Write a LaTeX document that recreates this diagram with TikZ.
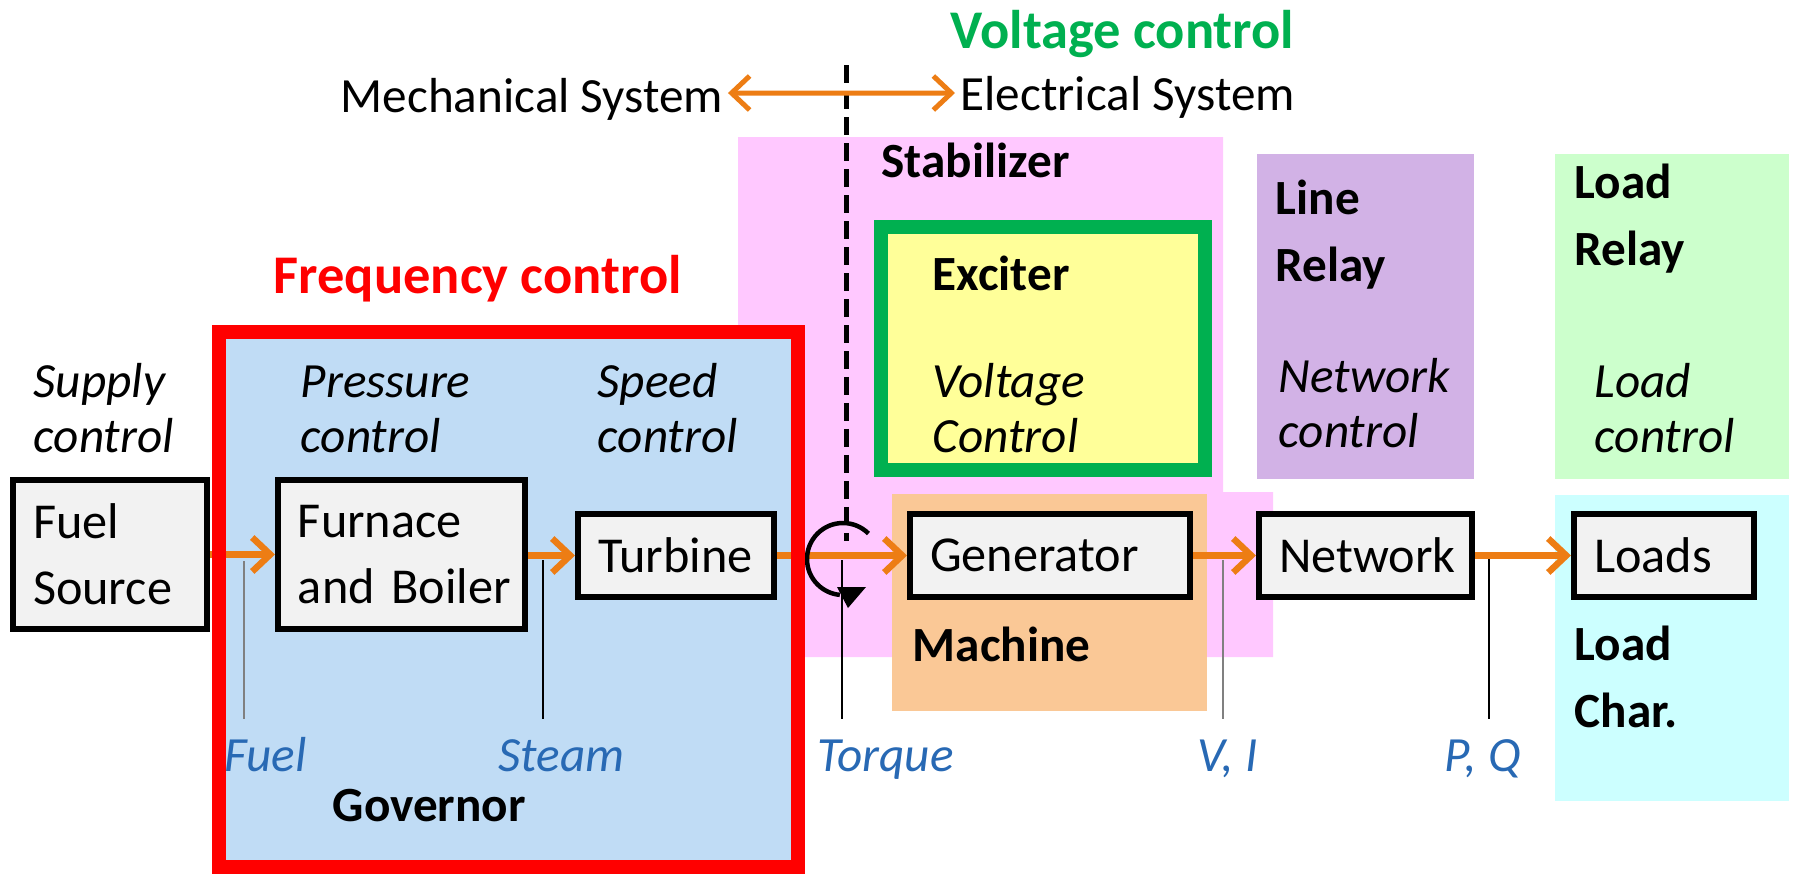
\documentclass[tikz,border=0pt]{standalone}
\usepackage{fontspec}
\setmainfont{Carlito}
\usetikzlibrary{arrows.meta,positioning}
\definecolor{flow}{RGB}{237,125,20}
\definecolor{freqred}{RGB}{255,0,0}
\definecolor{voltgreen}{RGB}{0,176,80}
\definecolor{govblue}{RGB}{192,220,245}
\definecolor{stabpink}{RGB}{255,200,255}
\definecolor{machorange}{RGB}{250,200,150}
\definecolor{excyellow}{RGB}{255,255,153}
\definecolor{relaypurple}{RGB}{210,178,230}
\definecolor{loadgreen}{RGB}{204,255,204}
\definecolor{loadcyan}{RGB}{204,255,255}
\definecolor{sigblue}{RGB}{40,105,180}
\definecolor{boxgray}{RGB}{242,242,242}

\begin{document}
\begin{tikzpicture}[
  >={Straight Barb[length=0.18cm,width=0.34cm]},
  blockbox/.style={draw=black, fill=boxgray, line width=0.06cm, align=left, inner xsep=0.2cm, inner ysep=0pt, font=\fontsize{14.3}{18.8}\selectfont},
  flowarrow/.style={->, line width=0.065cm, color=flow},
  ctrltext/.style={font=\fontsize{14}{15.6}\selectfont\itshape, align=left, anchor=base west, inner sep=0pt},
  tagtext/.style={font=\fontsize{14}{19}\selectfont\bfseries, align=left, anchor=base west, inner sep=0pt},
  sigtext/.style={font=\fontsize{14}{17}\selectfont\itshape, color=sigblue, anchor=base west, inner sep=0pt},
  sigtick/.style={line width=0.02cm}
]
\useasboundingbox (0,0) rectangle (17.94,-8.74);

% coloured areas
\fill[stabpink] (7.38,-1.37) -- (12.23,-1.37) -- (12.23,-4.92) -- (12.73,-4.92) -- (12.73,-6.57) -- (7.38,-6.57) -- cycle;
\fill[machorange] (8.92,-4.94) rectangle (12.07,-7.11);
\filldraw[fill=excyellow, draw=voltgreen, line width=0.14cm] (8.81,-2.27) rectangle (12.05,-4.70);
\fill[relaypurple] (12.57,-1.54) rectangle (14.74,-4.79);
\fill[loadgreen] (15.55,-1.54) rectangle (17.89,-4.79);
\fill[loadcyan] (15.55,-4.95) rectangle (17.89,-8.01);
\fill[govblue] (2.19,-3.32) rectangle (7.98,-8.67);

% mechanical / electrical divide
\coordinate (divtop) at (8.46,-0.65);
\coordinate (divbot) at (8.46,-5.41);
\draw[line width=0.05cm, dash pattern=on 0.18cm off 0.08cm] (divtop) -- (divbot);

% blocks
\node[blockbox, text width=1.54cm, minimum height=1.49cm] (fuel) at (1.10,-5.545) {Fuel\\Source};
\node[blockbox, text width=2.07cm, minimum height=1.49cm] (furnace) at (4.015,-5.545) {Furnace\\\mbox{and Boiler}};
\node[blockbox, text width=1.56cm, minimum height=0.83cm] (turbine) at (6.76,-5.555) {Turbine};
\node[blockbox, text width=2.40cm, minimum height=0.83cm] (generator) at (10.50,-5.555) {Generator};
\node[blockbox, text width=1.73cm, minimum height=0.83cm] (network) at (13.655,-5.555) {Network};
\node[blockbox, text width=1.40cm, minimum height=0.83cm] (loads) at (16.64,-5.555) {Loads};

\draw[flowarrow] (fuel.east) -- (furnace.west);
\draw[flowarrow] (furnace.east |- turbine.west) -- (turbine.west);
\draw[flowarrow] (turbine.east) -- (generator.west);
\draw[flowarrow] (generator.east) -- (network.west);
\draw[flowarrow] (network.east) -- (loads.west);

% signal taps
\coordinate (fueltap) at (2.44,-5.61);
\coordinate (steamtap) at (5.43,-5.60);
\coordinate (torquetap) at (8.42,-5.60);
\coordinate (vitap) at (12.23,-5.60);
\coordinate (pqtap) at (14.89,-5.59);
\draw[sigtick, gray] (fueltap) -- ++(0,-1.58);
\draw[sigtick] (steamtap) -- ++(0,-1.59);
\draw[sigtick] (torquetap) -- ++(0,-1.59);
\draw[sigtick, gray] (vitap) -- ++(0,-1.59);
\draw[sigtick] (pqtap) -- ++(0,-1.60);

% shaft rotation
\coordinate (shaft) at (8.43,-5.59);
\draw[line width=0.045cm] ([shift={(45:0.36)}]shaft) arc[start angle=45, end angle=265, radius=0.36];
\fill ([shift={(-0.06,-0.28)}]shaft) -- ++(0.29,0) -- ++(-0.18,-0.21) -- cycle;

\node[sigtext] (fuellbl) at (2.24,-7.71) {Fuel};
\node[sigtext] (steamlbl) at (4.98,-7.71) {Steam};
\node[sigtext] (torquelbl) at (8.17,-7.71) {Torque};
\node[sigtext] (vilbl) at (11.97,-7.71) {V, I};
\node[sigtext] (pqlbl) at (14.44,-7.71) {P, Q};

% governor frame on top
\draw[freqred, line width=0.14cm] (2.19,-3.32) rectangle (7.98,-8.67);

% control labels (anchored on the last line)
\node[ctrltext] (supply) at (0.33,-4.52) {Supply\\control};
\node[ctrltext] (pressure) at (3.00,-4.52) {Pressure\\control};
\node[ctrltext] (speed) at (5.97,-4.52) {Speed\\control};
\node[ctrltext] (voltctl) at (9.32,-4.52) {Voltage\\Control};
\node[ctrltext] (netctl) at (12.78,-4.47) {Network\\control};
\node[ctrltext] (loadctl) at (15.94,-4.52) {Load\\control};

% area tags
\node[tagtext] (governor) at (3.32,-8.21) {Governor};
\node[tagtext] (machine) at (9.12,-6.61) {Machine};
\node[tagtext] (stabilizer) at (8.81,-1.77) {Stabilizer};
\node[tagtext] (exciter) at (9.32,-2.90) {Exciter};
\node[tagtext] (linerelay) at (12.75,-2.81) {Line\\Relay};
\node[tagtext] (loadrelay) at (15.74,-2.65) {Load\\Relay};
\node[tagtext] (loadchar) at (15.74,-7.27) {Load\\Char.};

% titles
\node[font=\fontsize{15.5}{19}\selectfont\bfseries, color=freqred, anchor=base west, inner sep=0pt] (freqtitle) at (2.73,-2.93) {Frequency control};
\node[font=\fontsize{15.5}{19}\selectfont\bfseries, color=voltgreen, anchor=base west, inner sep=0pt] (volttitle) at (9.50,-0.48) {Voltage control};
\node[font=\fontsize{14}{17}\selectfont, anchor=base west, inner sep=0pt] (mech) at (3.40,-1.12) {Mechanical System};
\node[font=\fontsize{14}{17}\selectfont, anchor=base west, inner sep=0pt] (elec) at (9.60,-1.10) {Electrical System};
\draw[flowarrow, <->, line width=0.05cm] ([shift={(0.04,0.19)}]mech.base east) -- ([shift={(-0.05,0.17)}]elec.base west);
\end{tikzpicture}
\end{document}
